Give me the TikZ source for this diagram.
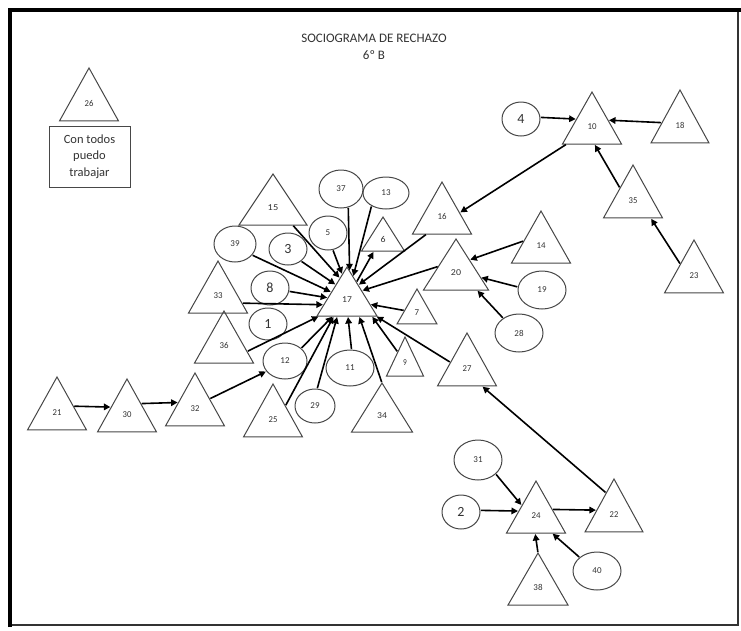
\documentclass[tikz,border=0pt]{standalone}
\usepackage{fontspec}
\setmainfont{Carlito}
\usetikzlibrary{shapes.geometric,arrows.meta}
\definecolor{linegray}{gray}{0.28}
\definecolor{textgray}{gray}{0.2}
\tikzset{
  tri/.style 2 args={regular polygon, regular polygon sides=3, draw=linegray,
    line width=1pt, inner sep=0pt, outer sep=0pt, minimum size={#1*4/3},
    xscale={#2/(1.1547*#1)}, font=\fontsize{9}{10}\selectfont, text=textgray},
  ell/.style 2 args={ellipse, draw=linegray, line width=1pt, inner sep=0pt,
    outer sep=0pt, minimum width={2*#1}, minimum height={2*#2},
    font=\fontsize{9}{10}\selectfont, text=textgray},
  big/.style={font=\fontsize{14}{16}\selectfont},
  arr/.style={line width=1.6pt, -{Triangle[length=6.5pt,width=6.5pt]},
    shorten >=1pt, shorten <=1pt}
}
\begin{document}
\begin{tikzpicture}[x=1pt,y=-1pt]
\useasboundingbox (0,0) rectangle (741,630);
\fill[white] (0,0) rectangle (741,630);
% frame
\draw[line width=1.5pt, black!80] (10,625) -- (738,625) -- (738,10);
\draw[line width=4pt] (10,627) -- (10,10) -- (741,10);
% title
\node[font=\fontsize{13}{17}\selectfont, align=center, text=textgray] (title) at (374,46.5) {SOCIOGRAMA DE RECHAZO\\6º B};
% legend
\node[tri={53}{59}] (n26) at (89,103.3) {26};
\node[draw=linegray, line width=1pt, minimum width=81pt, minimum height=61pt,
  align=center, font=\fontsize{12.5}{16.5}\selectfont, text=textgray] (box) at (89.5,156.5) {Con todos\\puedo\\trabajar};
% triangles
\node[tri={51}{68}] (n15) at (273,208) {15};
\node[tri={52}{59}] (n33) at (218,295.7) {33};
\node[tri={49}{60}] (n17) at (347,299.7) {17};
\node[tri={34}{43}] (n6) at (383,239.7) {6};
\node[tri={52}{59}] (n16) at (442,216.7) {16};
\node[tri={51}{65}] (n20) at (456,273) {20};
\node[tri={52}{59}] (n14) at (541,245.7) {14};
\node[tri={35}{40}] (n7) at (417,312.3) {7};
\node[tri={52}{59}] (n36) at (224,345.7) {36};
\node[tri={39}{37}] (n9) at (405,363) {9};
\node[tri={53}{59}] (n27) at (467,368.3) {27};
\node[tri={53}{59}] (n32) at (195,408.3) {32};
\node[tri={53}{59}] (n25) at (273,419.3) {25};
\node[tri={49}{61}] (n34) at (382,415.7) {34};
\node[tri={53}{59}] (n21) at (57,412.3) {21};
\node[tri={53}{59}] (n30) at (127,414.3) {30};
\node[tri={52}{59}] (n10) at (592,126.7) {10};
\node[tri={53}{58}] (n18) at (680,125.3) {18};
\node[tri={53}{59}] (n35) at (633,200.3) {35};
\node[tri={53}{59}] (n23) at (694,275.3) {23};
\node[tri={52}{59}] (n24) at (536,515.7) {24};
\node[tri={53}{58}] (n22) at (614,514.3) {22};
\node[tri={52}{60}] (n38) at (538,587.7) {38};
% ellipses
\node[ell={19}{17}, big] (n4) at (521,119) {4};
\node[ell={22}{19}] (n37) at (341,189) {37};
\node[ell={23}{16}] (n13) at (386,193) {13};
\node[ell={21}{18}] (n39) at (235,244) {39};
\node[ell={19}{16}, big] (n3) at (288,249) {3};
\node[ell={19}{17}] (n5) at (328,233) {5};
\node[ell={19}{17}, big] (n8) at (270,288) {8};
\node[ell={19}{16}, big] (n1) at (268,324) {1};
\node[ell={22}{18}] (n12) at (285,361) {12};
\node[ell={24}{18}] (n11) at (350,368) {11};
\node[ell={20}{17}] (n29) at (315,406) {29};
\node[ell={24}{19}] (n19) at (542,290) {19};
\node[ell={24}{19}] (n28) at (519,333) {28};
\node[ell={24}{20}] (n31) at (478,460) {31};
\node[ell={19}{17}, big] (n2) at (461,512) {2};
\node[ell={24}{19}] (n40) at (597,571) {40};
% arrows: chains
\draw[arr] (n21.20) -- (n30.156);
\draw[arr] (n30.37) -- (n32.161);
\draw[arr] (n32.32) -- (n12.209);
\draw[arr] (n4.5) -- (n10.154);
\draw[arr] (n18.172) -- (n10.22);
\draw[arr] (n35.138) -- (n10.278);
\draw[arr] (n23.142) -- (n35.316);
\draw[arr] (n10.214) -- (n16.12);
\draw[arr] (n14.164) -- (n20.47);
\draw[arr] (n19.173) -- (n20.349);
\draw[arr] (n28.137) -- (n20.318);
\draw[arr] (n31.322) -- (n24.145);
\draw[arr] (n2.5) -- (n24.165);
\draw[arr] (n24.21) -- (n22.167);
\draw[arr] (n38.north) -- (n24.267);
\draw[arr] (n40.142) -- (n24.313);
\draw[arr] (n22.111) -- (n27.311);
% arrows into 17
\draw[arr] (n15.315) -- (n17.107);
\draw[arr] (n37.292) -- (n17.85);
\draw[arr] (n13.221) -- (n17.76);
\draw[arr] (n5.286) -- (n17.100);
\draw[arr] (n3.317) -- (n17.125);
\draw[arr] (n39.327) -- (n17.153);
\draw[arr] (n8.350) -- (n17.174);
\draw[arr] (n33.343) -- (n17.193);
\draw[arr] (n16.228) -- (n17.54);
\draw[arr] (n20.157) -- (n17.33);
\draw[arr] (n7.172) -- (n17.348);
\draw[arr] (n27.161) -- (n17.329);
\draw[arr] (n9.129) -- (n17.325);
\draw[arr] (n34.north) -- (n17.305);
\draw[arr] (n11.85) -- (n17.273);
\draw[arr] (n29.83) -- (n17.241);
\draw[arr] (n25.46) -- (n17.233);
\draw[arr] (n12.38) -- (n17.231);
\draw[arr] (n36.346) -- (n17.212);
\draw[arr] (n17.63) -- (n6.234);
\end{tikzpicture}
\end{document}
